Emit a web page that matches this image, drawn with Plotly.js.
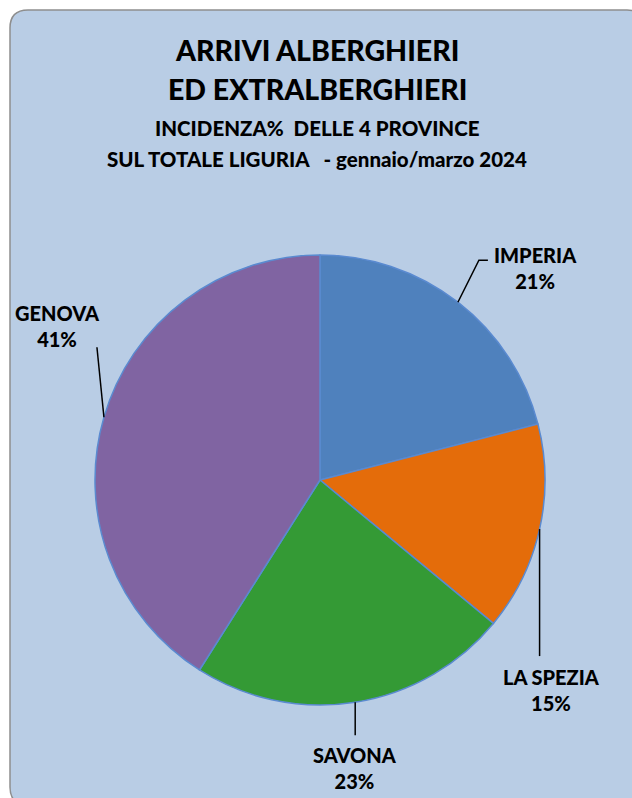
<!DOCTYPE html>
<html>
<head>
<meta charset="utf-8">
<script src="https://cdn.plot.ly/plotly-3.0.1.min.js"></script>
<style>
html,body{margin:0;padding:0;background:#ffffff;}
#chart{width:632px;height:798px;}
</style>
</head>
<body>
<div id="chart"></div>
<script>
// Data
const provinces = ["IMPERIA", "LA SPEZIA", "SAVONA", "GENOVA"];
const shares = [21, 15, 23, 41];
const colors = ["#4f81bd", "#e46c0a", "#349a35", "#8064a2"];
const titleLines = ["ARRIVI ALBERGHIERI", "ED EXTRALBERGHIERI", "INCIDENZA%&nbsp; DELLE 4 PROVINCE", "SUL TOTALE LIGURIA&nbsp;&nbsp; - gennaio/marzo 2024"];

// Layout geometry (pixels)
const W = 632, H = 798;
const cx = 320, cy = 480, R = 225;
const px = x => x / W;
const py = y => 1 - y / H;
const FONT = "Lato, 'Open Sans', sans-serif";

// leader line bends & label placement relative to slice mid-point (layout only)
const leaderOffsets = [
  [[21, -42], [30, -42]],
  [[0, 127]],
  [[0, 33]],
  [[-7, -70]]
];
const labelOffsets = [[78, -34], [12, 161], [0, 66], [-46, -91]];

const total = shares.reduce((a, b) => a + b, 0);
let cum = 0;
const shapes = [];
const annotations = [];

// rounded background
const L = 10, T = 10, Rr = 645, B = 805, rad = 18;
shapes.push({
  type: "path", xref: "paper", yref: "paper", layer: "below",
  path: `M ${px(L + rad)} ${py(T)} L ${px(Rr - rad)} ${py(T)} Q ${px(Rr)} ${py(T)} ${px(Rr)} ${py(T + rad)} L ${px(Rr)} ${py(B - rad)} Q ${px(Rr)} ${py(B)} ${px(Rr - rad)} ${py(B)} L ${px(L + rad)} ${py(B)} Q ${px(L)} ${py(B)} ${px(L)} ${py(B - rad)} L ${px(L)} ${py(T + rad)} Q ${px(L)} ${py(T)} ${px(L + rad)} ${py(T)} Z`,
  fillcolor: "#b9cde5", line: {color: "#8e8e8e", width: 1.5}
});

shares.forEach((v, i) => {
  const mid = (cum + v / 2) / total;
  cum += v;
  const th = 2 * Math.PI * mid;
  const ax = cx + R * Math.sin(th), ay = cy - R * Math.cos(th);
  let path = `M ${px(ax)} ${py(ay)}`;
  leaderOffsets[i].forEach(o => { path += ` L ${px(ax + o[0])} ${py(ay + o[1])}`; });
  shapes.push({type: "path", xref: "paper", yref: "paper", path: path, line: {color: "#000000", width: 1.5}});
  annotations.push({
    xref: "paper", yref: "paper",
    x: px(ax + labelOffsets[i][0]), y: py(ay + labelOffsets[i][1]),
    xanchor: "center", yanchor: "middle", showarrow: false,
    text: provinces[i] + "<br>" + Math.round(v / total * 100) + "%",
    font: {family: FONT, size: 20, weight: 900, color: "#000000"}
  });
});

const titleY = [50, 89, 128, 159];
const titleSize = [28.5, 28.5, 20.5, 20.5];
titleLines.forEach((t, i) => {
  annotations.push({
    xref: "paper", yref: "paper", x: px(317), y: py(titleY[i]),
    xanchor: "center", yanchor: "middle", showarrow: false,
    text: t,
    font: {family: FONT, size: titleSize[i], weight: 900, color: "#000000"}
  });
});

const data = [{
  type: "pie",
  labels: provinces,
  values: shares,
  sort: false,
  direction: "clockwise",
  rotation: 0,
  textinfo: "none",
  hoverinfo: "label+percent",
  marker: {colors: colors, line: {color: "#5a8ad0", width: 1.5}},
  domain: {x: [px(cx - R), px(cx + R)], y: [py(cy + R), py(cy - R)]},
  showlegend: false
}];

const layout = {
  width: W, height: H,
  margin: {l: 0, r: 0, t: 0, b: 0},
  paper_bgcolor: "#ffffff",
  plot_bgcolor: "rgba(0,0,0,0)",
  showlegend: false,
  shapes: shapes,
  annotations: annotations
};

Plotly.newPlot("chart", data, layout, {displayModeBar: false, staticPlot: true});
</script>
</body>
</html>
